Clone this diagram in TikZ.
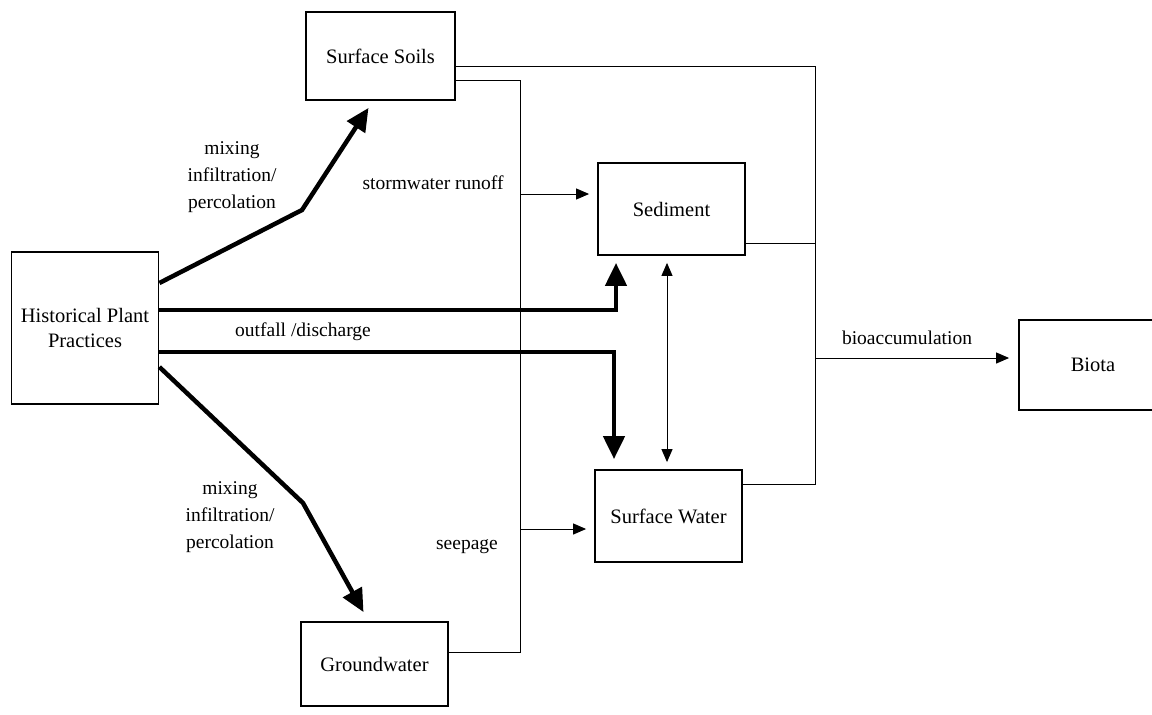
\documentclass[tikz,border=0pt]{standalone}
\usepackage{fontspec}
\setmainfont{Liberation Serif}
\usetikzlibrary{arrows.meta}
\begin{document}
\begin{tikzpicture}[x=1pt,y=-1pt,
		compbox/.style={draw,line width=1.8pt,minimum width=147pt,align=center,inner sep=0pt,font=\fontsize{20.5}{25}\selectfont},
		flowlbl/.style={align=center,inner sep=0pt,font=\fontsize{19.5}{27}\selectfont},
		thinline/.style={line width=1pt},
		thinarrow/.style={line width=1pt,-{Triangle[length=13pt,width=11pt]}},
		thickarrow/.style={line width=4.5pt,-{Triangle[length=23pt,width=21pt]}}]
			\useasboundingbox (0,0) rectangle (1152,715);
			\node[compbox,minimum height=152pt] (hist) at (85,328) {Historical Plant\\Practices};
			\node[compbox,minimum width=149pt,minimum height=88pt] (soils) at (380.5,56) {Surface Soils};
			\node[compbox,minimum height=92pt] (sed) at (671.5,209) {Sediment};
			\node[compbox,minimum height=92pt] (water) at (668.5,516) {Surface Water};
			\node[compbox,minimum height=84pt] (ground) at (374.5,664) {Groundwater};
			\node[compbox,minimum width=148pt,minimum height=90pt] (biota) at (1093,365) {Biota};
			\coordinate (bendup) at (302,210);
			\coordinate (benddown) at (303,503);
			\coordinate (histtop) at ([yshift=18pt]hist.east);
			\coordinate (histlow) at ([yshift=-24pt]hist.east);
			\coordinate (jsed) at (616,310);
			\coordinate (jwater) at (614,352);
			\coordinate (lrail) at (520,80);
			\coordinate (rrail) at (815,66);
			\coordinate (gwout) at ([yshift=12pt]ground.east);
			\draw[thickarrow] ([yshift=45pt]hist.east) -- (bendup) -- ([xshift=-12pt,yshift=-7pt]soils.south);
			\draw[thickarrow] ([yshift=-39pt]hist.east) -- (benddown) -- ([xshift=-11pt,yshift=9pt]ground.north);
			\draw[thickarrow,shorten >=7pt] (histtop) -- (jsed) -- (jsed |- sed.south);
			\draw[thickarrow,shorten >=10pt] (histlow) -- (jwater) -- (jwater |- water.north);
			\draw[thinline,{Triangle[length=13pt,width=11pt]}-{Triangle[length=13pt,width=11pt]},shorten <=7pt,shorten >=7pt] ([xshift=-4.5pt]sed.south) -- ([xshift=-4.5pt]sed.south |- water.north);
			\draw[thinline] ([yshift=-24pt]soils.east) -- (lrail) -- (lrail |- gwout) -- (gwout);
			\draw[thinarrow,shorten >=8pt] (lrail |- 0,194) -- ([yshift=15pt]sed.west);
			\draw[thinarrow,shorten >=8pt] (lrail |- 0,529) -- ([yshift=-13pt]water.west);
			\draw[thinline] ([yshift=-10pt]soils.east) -- (rrail) -- (rrail |- 0,484) -- ([yshift=32pt]water.east);
			\draw[thinline] ([yshift=-34pt]sed.east) -- (rrail |- 0,243);
			\draw[thinarrow,shorten >=9pt] (rrail |- 0,358) -- ([yshift=7pt]biota.west);
			\node[flowlbl] (mixup) at (232,177) {mixing\\infiltration/\\percolation};
			\node[flowlbl] (mixdown) at (230,517) {mixing\\infiltration/\\percolation};
			\node[flowlbl] (storm) at (433,183) {stormwater runoff};
			\node[flowlbl] (outfall) at (303,332) {outfall /discharge};
			\node[flowlbl] (seep) at (467,547) {seepage};
			\node[flowlbl] (bioacc) at (907,338) {bioaccumulation};
		\end{tikzpicture}
\end{document}
